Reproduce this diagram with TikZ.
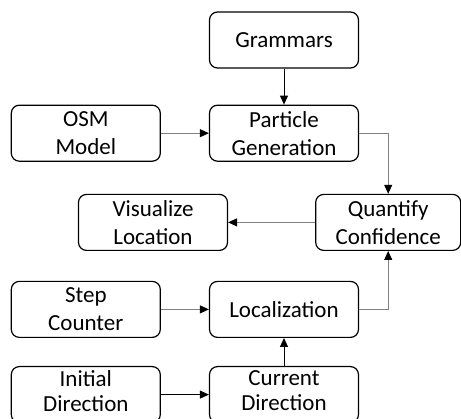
\documentclass[tikz,border=0pt]{standalone}
\usepackage{fontspec}
\setmainfont{Carlito}
\usepackage{xcolor}
\usepackage{tikz}
\usetikzlibrary{positioning,calc,arrows.meta}
\tikzset{
  flowfont/.style={font=\fontsize{23}{28}\selectfont},
  flowbox/.style={draw, line width=1.2pt, rounded corners=8pt, align=center,
    minimum width=149pt, minimum height=56pt, inner sep=2pt},
  flowboxlow/.style={flowbox, font=\fontsize{23}{25}\selectfont, text depth=8pt},
  flowarrow/.style={-{Triangle[length=9pt, width=8pt, color=black]}, line width=1pt},
  flowarrowgray/.style={flowarrow, draw=gray},
}

\begin{document}
\begin{tikzpicture}[flowfont]
  \useasboundingbox (0pt,0pt) rectangle (461pt,-419pt);

  % Middle column
  \node[flowbox] (grammars) at (284pt,-40pt) {Grammars};
  \node[flowbox, below=36pt of grammars] (partgen) {Particle\\Generation};
  \node[flowbox, below=119pt of partgen] (local) {Localization};
  \node[flowboxlow, below=28pt of local] (curdir) {Current\\Direction};

  % Left column
  \node[flowbox, left=48pt of partgen] (osm) {OSM\\Model};
  \node[flowbox, left=48pt of local] (stepcount) {Step\\Counter};
  \node[flowboxlow, left=48pt of curdir] (initdir) {Initial\\Direction};

  % Confidence and output
  \node[flowbox, minimum width=145pt, below right=32pt and -44pt of partgen] (quant) {Quantify\\Confidence};
  \node[flowbox, left=87pt of quant] (visual) {Visualize\\Location};

  % Arrows
  \draw[flowarrow] (grammars) -- (partgen);
  \draw[flowarrowgray] (osm) -- (partgen);
  \draw[flowarrowgray] (partgen.east) -| (quant.north);
  \draw[flowarrowgray] (quant) -- (visual);
  \draw[flowarrowgray] (stepcount) -- (local);
  \draw[flowarrowgray] (local.east) -| (quant.south);
  \draw[flowarrow] (initdir) -- (curdir);
  \draw[flowarrow] (curdir) -- (local);
\end{tikzpicture}
\end{document}
